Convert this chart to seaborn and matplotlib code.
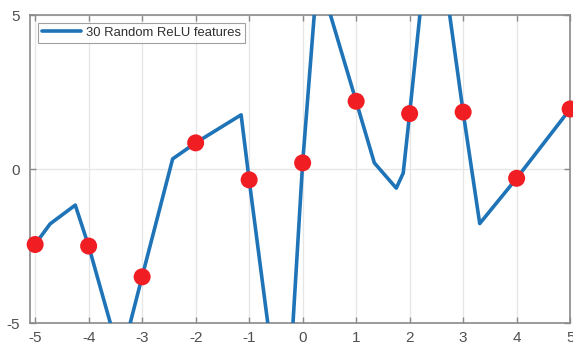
import matplotlib
matplotlib.use("Agg")
import matplotlib.pyplot as plt
import seaborn as sns
import pandas as pd

# Blue piecewise-linear curve (30 random ReLU features fit)
line_x = [-5.0, -4.72, -4.25, -4.0, -3.40, -3.0, -2.43, -2.0, -1.15, -1.0, -0.33,
          0.0, 0.28, 1.0, 1.34, 1.75, 1.88, 2.0, 2.43, 3.0, 3.31, 4.0, 5.0]
line_y = [-2.44, -1.78, -1.17, -2.5, -6.2, -3.49, 0.33, 0.85, 1.76, -0.35, -9.3,
          0.2, 6.4, 2.2, 0.2, -0.62, -0.13, 1.8, 9.0, 1.85, -1.77, -0.3, 1.95]

# Red sample points
pts_x = [-5, -4, -3, -2, -1, 0, 1, 2, 3, 4, 5]
pts_y = [-2.45, -2.5, -3.5, 0.85, -0.35, 0.2, 2.2, 1.8, 1.85, -0.3, 1.95]

x_ticks = [-5, -4, -3, -2, -1, 0, 1, 2, 3, 4, 5]
y_ticks = [-5, 0, 5]
legend_label = "30 Random ReLU features"

sns.set_style("white")
plt.rcParams['font.family'] = ['Liberation Sans', 'DejaVu Sans']

fig = plt.figure(figsize=(5.73, 3.5), dpi=100)
ax = fig.add_axes([0.052, 0.077, 0.943, 0.880])

line_df = pd.DataFrame({"x": line_x, "y": line_y})
pts_df = pd.DataFrame({"x": pts_x, "y": pts_y})

sns.lineplot(data=line_df, x="x", y="y", ax=ax, color="#1f74b8", linewidth=2.6,
             sort=False, label=legend_label, zorder=3)
sns.scatterplot(data=pts_df, x="x", y="y", ax=ax, color="#f01d23", s=150,
                edgecolor="none", zorder=4, legend=False)
for coll in ax.collections:
    coll.set_clip_on(False)

ax.set_xlim(-5.1, 5)
ax.set_ylim(-5, 5)
ax.set_xticks(x_ticks)
ax.set_yticks(y_ticks)
ax.set_xticklabels([str(t) for t in x_ticks])
ax.set_yticklabels([str(t) for t in y_ticks])
ax.set_xlabel("")
ax.set_ylabel("")
ax.grid(True, color="#e6e6e6", linewidth=0.9, zorder=0)
ax.set_axisbelow(True)

for sp in ax.spines.values():
    sp.set_color("#8a8a8a")
    sp.set_linewidth(1.2)
ax.tick_params(axis="both", direction="in", length=4, width=1, color="#8a8a8a",
               labelsize=11, labelcolor="#505050", top=True, right=True,
               bottom=True, left=True)
ax.tick_params(axis="x", pad=6)
ax.tick_params(axis="y", pad=7)

leg = ax.legend(loc="upper left", fontsize=9.4, frameon=True, fancybox=False,
                edgecolor="#8a8a8a", handlelength=3.0, borderpad=0.3,
                borderaxespad=0.6, handletextpad=0.4)
leg.get_frame().set_linewidth(0.8)
for t in leg.get_texts():
    t.set_color("#303030")

fig.savefig("out.png", dpi=100)
